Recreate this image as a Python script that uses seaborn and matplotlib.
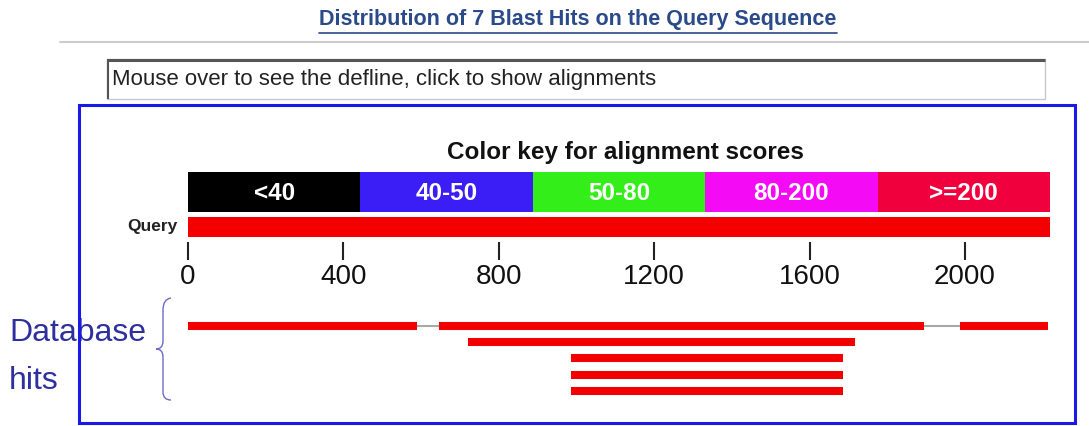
import numpy as np
import pandas as pd
import matplotlib
matplotlib.use('Agg')
import matplotlib.pyplot as plt
import seaborn as sns
from matplotlib.patches import Rectangle, PathPatch
from matplotlib.path import Path

# 数据
query_len = 2219
key_labels = ['<40', '40-50', '50-80', '80-200', '>=200']
key_colors = ['#000000', '#3a1ef5', '#33ee18', '#f50af5', '#f0003c']
tick_values = [0, 400, 800, 1200, 1600, 2000]
hit_row = [0, 0, 0, 1, 2, 3, 4]
hit_start = [1, 646, 1987, 721, 986, 986, 986]
hit_end = [589, 1894, 2214, 1717, 1686, 1686, 1686]

title = 'Distribution of 7 Blast Hits on the Query Sequence'
hint = 'Mouse over to see the defline, click to show alignments'

sns.set_theme(style='white')
plt.rcParams['font.family'] = ['Liberation Sans', 'DejaVu Sans']

W, H = 1089, 426
fig = plt.figure(figsize=(W / 100, H / 100), dpi=100)


def frac(x0, y0, x1, y1):
    # 像素框 -> figure 坐标
    return [x0 / W, 1 - y1 / H, (x1 - x0) / W, (y1 - y0) / H]


# 背景层（像素坐标）
bg = fig.add_axes([0, 0, 1, 1])
bg.set_xlim(0, W)
bg.set_ylim(H, 0)
bg.axis('off')

t = bg.text(578, 20, title, ha='center', va='center', fontsize=15.5,
            fontweight='bold', color='#2a4a8a')
bg.plot([60, W], [42, 42], color='#cccccc', lw=1.5)

# 提示框
bg.add_patch(Rectangle((107, 59), 938, 40, facecolor='white', edgecolor='#c8c8c8', lw=1))
bg.plot([107, 1045], [60, 60], color='#555555', lw=2.2, solid_capstyle='butt')
bg.plot([108, 108], [59, 99], color='#555555', lw=1.5, solid_capstyle='butt')
bg.text(112, 80, hint, ha='left', va='center', fontsize=16, color='#222222')

# 左侧说明
bg.text(9, 333, 'Database', ha='left', va='center', fontsize=23, color='#2e30a0', zorder=2)
bg.text(9, 381, 'hits', ha='left', va='center', fontsize=23, color='#2e30a0', zorder=2)
bg.add_patch(Rectangle((79, 105), 996, 318, facecolor='none', edgecolor='#1a1ae6', lw=2.2, zorder=5))

# 大括号
verts = [(171, 298), (163, 299), (163, 310), (163, 341), (163, 349), (156, 349),
         (163, 349), (163, 357), (163, 392), (163, 400), (171, 400)]
codes = [Path.MOVETO, Path.CURVE3, Path.CURVE3, Path.LINETO, Path.CURVE3, Path.CURVE3,
         Path.CURVE3, Path.CURVE3, Path.LINETO, Path.CURVE3, Path.CURVE3]
bg.add_patch(PathPatch(Path(verts, codes), facecolor='none', edgecolor='#6a6ac8', lw=1.0))

bg.text(178, 227, 'Query', ha='right', va='center', fontsize=12.5, fontweight='bold', color='#222222')

# 颜色键 + query + 刻度
ax = fig.add_axes(frac(188, 130, 1050, 242))
ax.patch.set_alpha(0)
w = query_len / len(key_labels)
ax.broken_barh([(i * w, w) for i in range(len(key_labels))], (172, 40),
               facecolors=key_colors, edgecolor='none', linewidth=0)
for i, lab in enumerate(key_labels):
    ax.text(i * w + w / 2, 193, lab, ha='center', va='center', color='white',
            fontsize=17.5, fontweight='bold')
ax.broken_barh([(0, query_len)], (217, 20), facecolors='#f50000', edgecolor='none', linewidth=0)
ax.text(1125, 153, 'Color key for alignment scores', ha='center', va='center',
        fontsize=17.5, fontweight='bold', color='#111111')
ax.set_xlim(0, query_len)
ax.set_ylim(242, 130)
for s in ax.spines.values():
    s.set_visible(False)
ax.set_yticks([])
ax.set_xticks(tick_values)
ax.set_xticklabels([str(v) for v in tick_values])
ax.tick_params(axis='x', bottom=True, direction='out', length=13, width=1.5,
               color='#222222', pad=3, labelsize=20, labelcolor='#111111')

# 命中片段
hits = pd.DataFrame({'row': hit_row, 'start': hit_start, 'end': hit_end})
hits['hit'] = range(len(hits))
segs = hits.melt(id_vars=['hit', 'row'], value_vars=['start', 'end'], value_name='pos')

gaps = []
for r, g in hits.sort_values('start').groupby('row'):
    g = g.reset_index(drop=True)
    for k in range(len(g) - 1):
        gaps.append({'gap': f'{r}-{k}', 'row': r, 'pos': g.loc[k, 'end']})
        gaps.append({'gap': f'{r}-{k}', 'row': r, 'pos': g.loc[k + 1, 'start']})
gaps = pd.DataFrame(gaps)

hx = fig.add_axes(frac(188, 317.3, 1050, 399.3))
hx.patch.set_alpha(0)
sns.lineplot(data=gaps, x='pos', y='row', units='gap', estimator=None, color='#a8a8a8',
             lw=1.5, ax=hx, legend=False)
sns.lineplot(data=segs, x='pos', y='row', units='hit', estimator=None, color='#f20000',
             lw=5.8, solid_capstyle='butt', ax=hx, legend=False)
hx.set_xlim(0, query_len)
hx.set_ylim(4.5, -0.5)
hx.axis('off')

# 标题下划线
fig.canvas.draw()
bb = t.get_window_extent()
bg.plot([bb.x0, bb.x1], [33, 33], color='#2a4a8a', lw=1.2)

fig.savefig('out.png', dpi=100)
